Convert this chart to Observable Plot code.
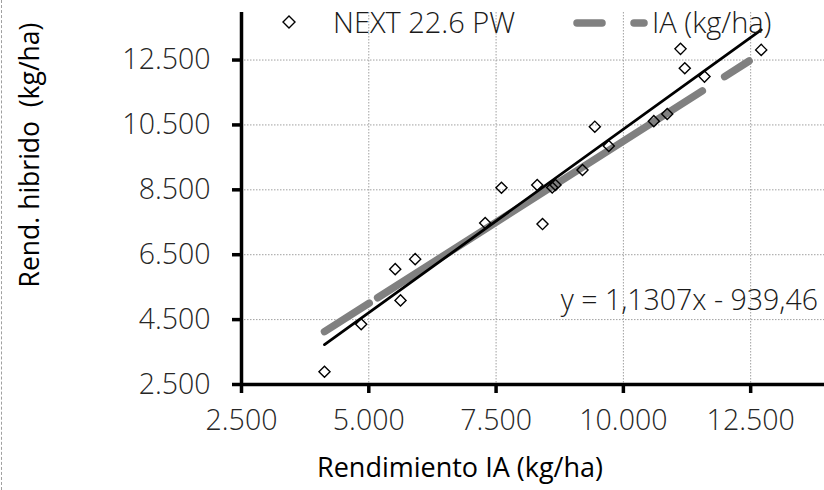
<!DOCTYPE html>
<html><head><meta charset="utf-8">
<script src="https://cdn.jsdelivr.net/npm/d3@7"></script>
<script src="https://cdn.jsdelivr.net/npm/@observablehq/plot@0.6"></script>
<style>
body{margin:0;background:#fff;}
#wrap{position:relative;width:824px;height:490px;font-family:"Open Sans",sans-serif;overflow:hidden;}
#wrap svg.plot{position:absolute;left:0;top:0;}
.ov{position:absolute;white-space:pre;line-height:28px;}
</style></head>
<body>
<div id="wrap"></div>
<script>
// Data
const rendIA =      [4130, 4851, 5623, 5519, 5911, 7286, 8412, 7606, 8308, 8602, 8667, 9197, 9439, 9714, 10598, 10861, 11122, 11206, 11593, 12707];
const rendHibrido = [2895, 4358, 5092, 6055, 6364, 7478, 7444, 8564, 8650, 8573, 8647, 9110, 10446, 9851, 10616, 10838, 12844, 12246, 11989, 12813];
const trendSlope = 1.1307;
const trendIntercept = -939.46;
const xTicks = [2500, 5000, 7500, 10000, 12500];
const yTicks = [2500, 4500, 6500, 8500, 10500, 12500];
const xGrid = [5000, 7500, 10000, 12500];
const yGrid = [4500, 6500, 8500, 10500, 12500];
const seriesName = "NEXT 22.6 PW";
const refName = "IA (kg/ha)";
const equation = "y = 1,1307x - 939,46";

const points = rendIA.map((x, i) => ({x, y: rendHibrido[i]}));
const xmin = d3.min(rendIA), xmax = d3.max(rendIA);
const trend = [xmin, xmax].map(x => ({x, y: trendSlope * x + trendIntercept}));
const iaLine = [xmin, xmax].map(x => ({x, y: x}));
const fmt = d => d3.format(",.0f")(d).replace(/,/g, ".");

const chart = Plot.plot({
  width: 824, height: 490,
  marginLeft: 241, marginRight: 0, marginTop: 12, marginBottom: 106,
  x: {domain: [2500, 13950]},
  y: {domain: [2500, 13965]},
  style: {fontFamily: "'Open Sans', sans-serif", fontSize: "28.5px", background: "transparent", color: "#262626"},
  marks: [
    Plot.gridX(xGrid, {stroke: "#a0a0a0", strokeOpacity: 1, strokeWidth: 1, strokeDasharray: "1.5,1.5"}),
    Plot.gridY(yGrid, {stroke: "#a0a0a0", strokeOpacity: 1, strokeWidth: 1, strokeDasharray: "1.5,1.5"}),
    Plot.line(iaLine, {x: "x", y: "y", stroke: "#808080", strokeWidth: 7.5, strokeLinecap: "round", strokeDasharray: "53,10,385,26.5,29,100"}),
    Plot.dot(points, {x: "x", y: "y", symbol: "diamond2", r: 5, stroke: "#000", strokeWidth: 1.4, fill: "none"}),
    Plot.line(trend, {x: "x", y: "y", stroke: "#000", strokeWidth: 2.8}),
    Plot.ruleX([2500], {stroke: "#000", strokeWidth: 3.5}),
    Plot.ruleY([2500], {stroke: "#000", strokeWidth: 3.5}),
    Plot.axisX(xTicks, {tickSize: 9, tickPadding: 16, stroke: "#000", strokeWidth: 3.5, tickFormat: fmt, label: null, fill: "#262626", fontWeight: 300}),
    Plot.axisY(yTicks, {tickSize: 9, tickPadding: 22, stroke: "#000", strokeWidth: 3.5, tickFormat: fmt, label: null, fill: "#262626", fontWeight: 300})
  ]
});
chart.classList.add("plot");
const wrap = document.getElementById("wrap");
wrap.appendChild(chart);

function addText(txt, css) {
  const d = document.createElement("div");
  d.className = "ov";
  d.textContent = txt;
  Object.assign(d.style, css);
  wrap.appendChild(d);
  return d;
}
// left dashed frame border
const b = document.createElement("div");
Object.assign(b.style, {position: "absolute", left: "1px", top: "0", width: "0", height: "490px", borderLeft: "1px dashed #a0a0a0"});
wrap.appendChild(b);

// legend
const lg = document.createElementNS("http://www.w3.org/2000/svg", "svg");
lg.setAttribute("width", 824); lg.setAttribute("height", 40);
Object.assign(lg.style, {position: "absolute", left: "0", top: "0"});
lg.innerHTML = `<path d="M289,16L295,22L289,28L283,22Z" fill="none" stroke="#000" stroke-width="1.4"/>
<line x1="577" y1="23" x2="602" y2="23" stroke="#808080" stroke-width="7.5" stroke-linecap="round"/>
<line x1="634" y1="23" x2="644" y2="23" stroke="#808080" stroke-width="7.5" stroke-linecap="round"/>`;
wrap.appendChild(lg);
addText(seriesName, {left: "333px", top: "8px", fontSize: "29px", fontWeight: "300", color: "#1a1a1a"});
addText(refName, {left: "652px", top: "8px", fontSize: "29px", fontWeight: "300", color: "#1a1a1a"});
// equation
addText(equation, {right: "6px", top: "285px", fontSize: "28.5px", fontWeight: "300", color: "#1a1a1a"});
// axis titles
addText("Rendimiento IA (kg/ha)", {left: "460px", top: "453px", fontSize: "27px", color: "#000", transform: "translateX(-50%)"});
addText("Rend. hibrido  (kg/ha)", {left: "29px", top: "155px", fontSize: "26.5px", color: "#000", transform: "translate(-50%,-50%) rotate(-90deg)"});
</script>
</body></html>
